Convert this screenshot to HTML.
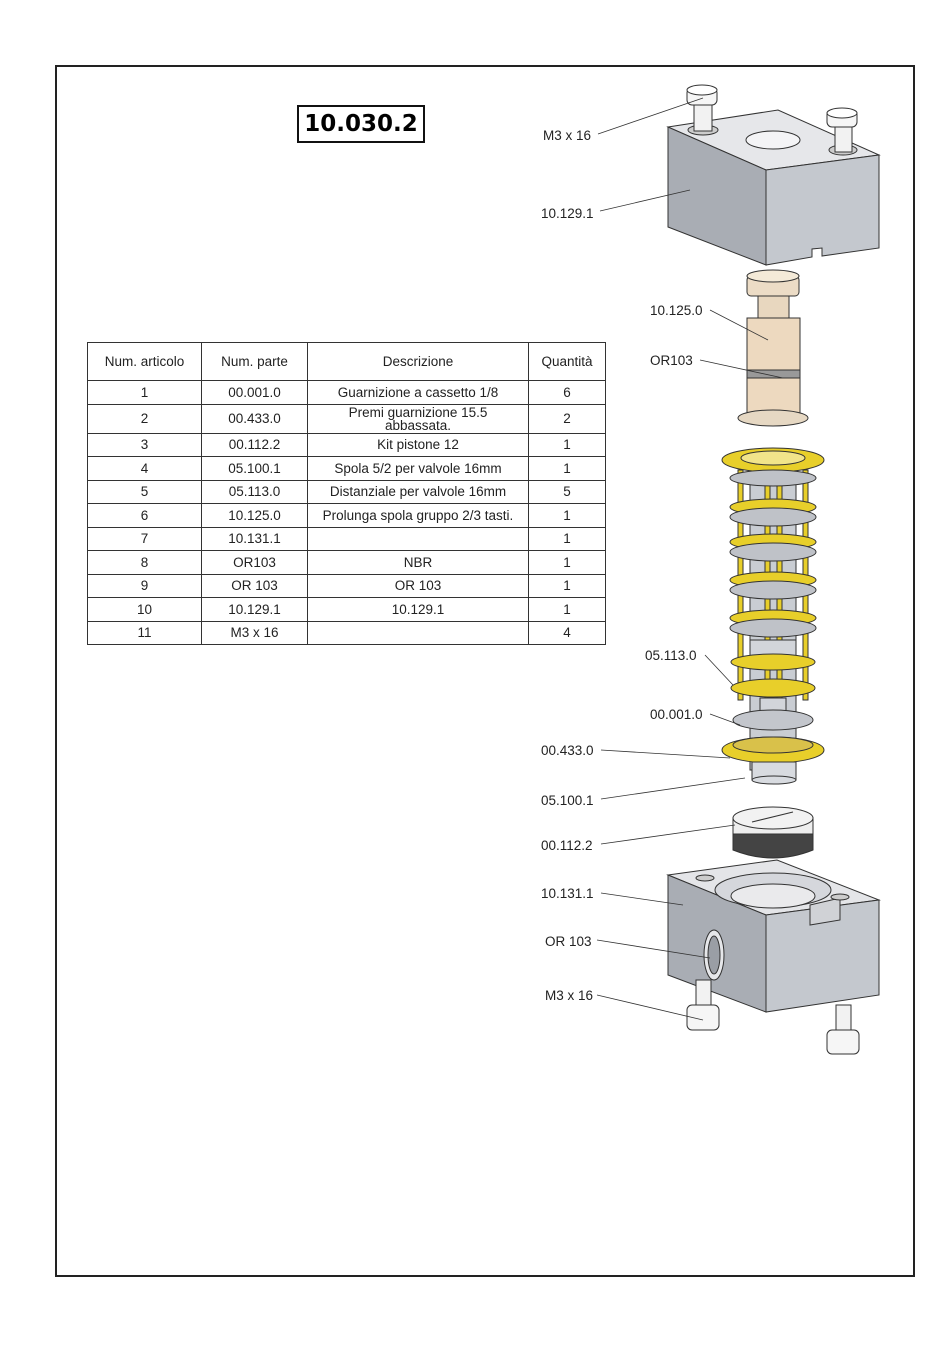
<!DOCTYPE html>
<html><head><meta charset="utf-8"><style>
body{margin:0;width:950px;height:1369px;background:#fff;position:relative;font-family:"Liberation Sans",sans-serif;overflow:hidden}
#frame{position:absolute;left:55px;top:65px;width:856px;height:1208px;border:2px solid #222}
#title{position:absolute;left:297px;top:105px;width:124px;height:34px;border:2px solid #111;font-family:"DejaVu Sans",sans-serif;font-weight:bold;font-size:23px;text-align:center;line-height:34px}
table{position:absolute;left:87px;top:342px;border-collapse:collapse;font-size:13.5px;color:#222}
td{border:1px solid #333;text-align:center;padding:0;height:22.5px;line-height:13px}
tr.h td{height:37px}
svg{position:absolute;left:0;top:0}
</style></head><body>
<div id="frame"></div>
<div id="title">10.030.2</div>
<table>
<colgroup><col style="width:114px"><col style="width:106px"><col style="width:221px"><col style="width:77px"></colgroup>
<tr class="h"><td>Num. articolo</td><td>Num. parte</td><td>Descrizione</td><td>Quantità</td></tr>
<tr><td>1</td><td>00.001.0</td><td>Guarnizione a cassetto 1/8</td><td>6</td></tr>
<tr style="height:29px"><td>2</td><td>00.433.0</td><td>Premi guarnizione 15.5<br>abbassata.</td><td>2</td></tr>
<tr><td>3</td><td>00.112.2</td><td>Kit pistone 12</td><td>1</td></tr>
<tr><td>4</td><td>05.100.1</td><td>Spola 5/2 per valvole 16mm</td><td>1</td></tr>
<tr><td>5</td><td>05.113.0</td><td>Distanziale per valvole 16mm</td><td>5</td></tr>
<tr><td>6</td><td>10.125.0</td><td>Prolunga spola gruppo 2/3 tasti.</td><td>1</td></tr>
<tr><td>7</td><td>10.131.1</td><td></td><td>1</td></tr>
<tr><td>8</td><td>OR103</td><td>NBR</td><td>1</td></tr>
<tr><td>9</td><td>OR 103</td><td>OR 103</td><td>1</td></tr>
<tr><td>10</td><td>10.129.1</td><td>10.129.1</td><td>1</td></tr>
<tr><td>11</td><td>M3 x 16</td><td></td><td>4</td></tr>
</table>
<svg width="950" height="1369" viewBox="0 0 950 1369">
<g stroke="#333" stroke-width="1">
<!-- top block -->
<polygon points="668,127 778,110 879,155 766,170" fill="#e6e7ea"/>
<polygon points="668,127 766,170 766,265 668,227" fill="#a9adb4"/>
<polygon points="766,170 879,155 879,248 822,256 822,248 812,249 812,257 766,265" fill="#c4c8ce"/>
<ellipse cx="773" cy="140" rx="27" ry="9" fill="#f4f4f6"/>
<ellipse cx="703" cy="130" rx="15" ry="5" fill="#ccc"/>
<rect x="694" y="103" width="18" height="28" fill="#f2f2f2"/>
<rect x="687" y="88" width="30" height="17" rx="5" fill="#f6f6f6"/>
<ellipse cx="702" cy="90" rx="15" ry="5" fill="#fff"/>
<ellipse cx="843" cy="150" rx="14" ry="5" fill="#ccc"/>
<rect x="835" y="124" width="17" height="28" fill="#f2f2f2"/>
<rect x="827" y="110" width="30" height="17" rx="5" fill="#f6f6f6"/>
<ellipse cx="842" cy="113" rx="15" ry="5" fill="#fff"/>
<!-- extension -->
<rect x="747" y="276" width="52" height="20" rx="4" fill="#ecdcc6"/>
<ellipse cx="773" cy="276" rx="26" ry="6" fill="#f4ead8"/>
<rect x="758" y="296" width="31" height="22" fill="#e8d7bf"/>
<rect x="747" y="318" width="53" height="96" fill="#edd9bf"/>
<rect x="747" y="370" width="53" height="8" fill="#999"/>
<ellipse cx="773" cy="418" rx="35" ry="8" fill="#e6d8c3"/>
</g>
<!-- stack -->
<g stroke="#333" stroke-width="1">
<rect x="750" y="470" width="46" height="300" fill="#c9cdd3"/>
<g fill="#e8cf2a">
<rect x="738" y="470" width="5" height="230"/><rect x="803" y="470" width="5" height="230"/>
<rect x="765" y="470" width="5" height="230"/><rect x="777" y="470" width="5" height="230"/>
</g>
<ellipse cx="773" cy="460" rx="51" ry="12" fill="#e8cf2a"/>
<ellipse cx="773" cy="458" rx="32" ry="7" fill="#f1e48a"/>
<ellipse cx="773" cy="478" rx="43" ry="8" fill="#bfc2c8"/>
<ellipse cx="773" cy="507" rx="43" ry="8" fill="#e8cf2a"/>
<ellipse cx="773" cy="517" rx="43" ry="9" fill="#bfc2c8"/>
<ellipse cx="773" cy="542" rx="43" ry="8" fill="#e8cf2a"/>
<ellipse cx="773" cy="552" rx="43" ry="9" fill="#bfc2c8"/>
<ellipse cx="773" cy="580" rx="43" ry="8" fill="#e8cf2a"/>
<ellipse cx="773" cy="590" rx="43" ry="9" fill="#bfc2c8"/>
<ellipse cx="773" cy="618" rx="43" ry="8" fill="#e8cf2a"/>
<ellipse cx="773" cy="628" rx="43" ry="9" fill="#bfc2c8"/>
<rect x="750" y="640" width="46" height="20" fill="#d2d5da"/>
<ellipse cx="773" cy="662" rx="42" ry="8" fill="#e8cf2a"/>
<ellipse cx="773" cy="688" rx="42" ry="9" fill="#e8cf2a"/>
<rect x="760" y="698" width="26" height="14" fill="#d2d5da"/>
<ellipse cx="773" cy="720" rx="40" ry="10" fill="#c3c6cc"/>
<ellipse cx="773" cy="750" rx="51" ry="13" fill="#e8cf2a"/>
<ellipse cx="773" cy="745" rx="40" ry="8" fill="#d9c14a"/>
<rect x="752" y="762" width="44" height="18" fill="#d8dbe0"/>
<ellipse cx="774" cy="780" rx="22" ry="4" fill="#d8dbe0"/>
<!-- piston -->
<path d="M733,832 L733,850 Q773,866 813,850 L813,832 Z" fill="#444"/>
<rect x="733" y="818" width="80" height="16" fill="#eee"/>
<ellipse cx="773" cy="818" rx="40" ry="11" fill="#f2f2f2"/>
<line x1="752" y1="822" x2="793" y2="812"/>
<!-- bottom block -->
<polygon points="668,875 777,860 879,900 766,915" fill="#e4e5e8"/>
<polygon points="668,875 766,915 766,1012 668,975" fill="#a9adb4"/>
<polygon points="766,915 879,900 879,995 766,1012" fill="#c4c8ce"/>
<ellipse cx="773" cy="890" rx="58" ry="17" fill="#d5d7dc"/>
<ellipse cx="773" cy="896" rx="42" ry="12" fill="#eaeaec"/>
<polygon points="810,905 840,898 840,920 810,925" fill="#d0d2d6"/>
<ellipse cx="705" cy="878" rx="9" ry="3" fill="#ccc"/>
<ellipse cx="840" cy="897" rx="9" ry="3" fill="#ccc"/>
<ellipse cx="714" cy="955" rx="10" ry="25" fill="#e6e7ea"/>
<ellipse cx="714" cy="955" rx="6" ry="19" fill="#9a9ea5"/>
<rect x="696" y="980" width="15" height="30" fill="#f2f2f2"/>
<rect x="687" y="1005" width="32" height="25" rx="5" fill="#f6f6f6"/>
<rect x="836" y="1005" width="15" height="30" fill="#f2f2f2"/>
<rect x="827" y="1030" width="32" height="24" rx="5" fill="#f6f6f6"/>
</g>
<!-- leaders -->
<g stroke="#333" stroke-width="0.8" fill="none">
<line x1="598" y1="134" x2="703" y2="98"/>
<line x1="600" y1="211" x2="690" y2="190"/>
<line x1="710" y1="310" x2="768" y2="340"/>
<line x1="700" y1="360" x2="783" y2="378"/>
<line x1="705" y1="655" x2="733" y2="685"/>
<line x1="710" y1="714" x2="740" y2="725"/>
<line x1="601" y1="750" x2="730" y2="758"/>
<line x1="601" y1="799" x2="745" y2="778"/>
<line x1="601" y1="844" x2="735" y2="825"/>
<line x1="601" y1="893" x2="683" y2="905"/>
<line x1="597" y1="940" x2="710" y2="958"/>
<line x1="597" y1="995" x2="703" y2="1020"/>
</g>
<g font-family="Liberation Sans, sans-serif" font-size="13.5" fill="#222">
<text x="543" y="140">M3 x 16</text>
<text x="541" y="218">10.129.1</text>
<text x="650" y="315">10.125.0</text>
<text x="650" y="365">OR103</text>
<text x="645" y="660">05.113.0</text>
<text x="650" y="719">00.001.0</text>
<text x="541" y="755">00.433.0</text>
<text x="541" y="805">05.100.1</text>
<text x="541" y="850">00.112.2</text>
<text x="541" y="898">10.131.1</text>
<text x="545" y="946">OR 103</text>
<text x="545" y="1000">M3 x 16</text>
</g>
</svg>
</body></html>
